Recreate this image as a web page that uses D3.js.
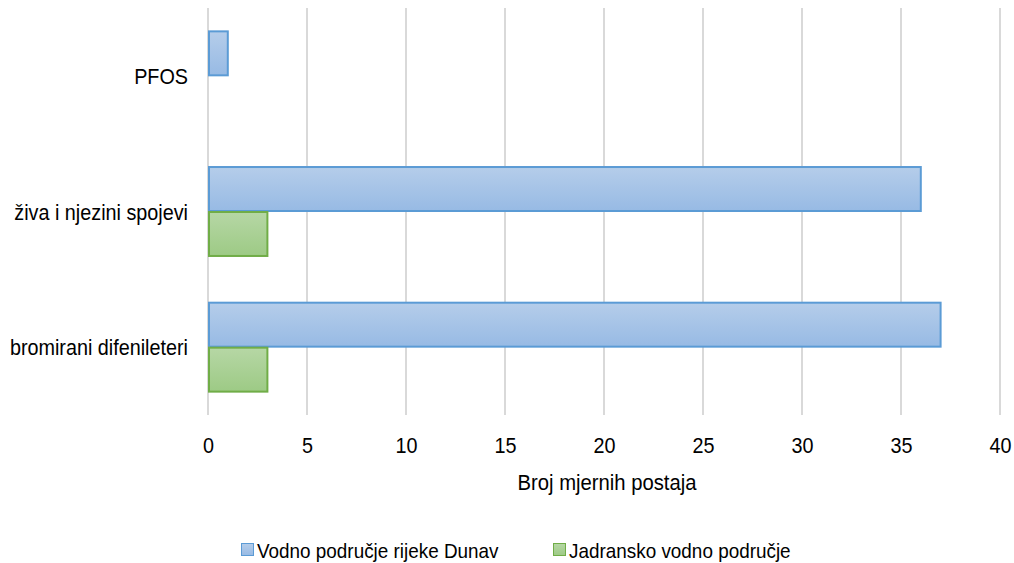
<!DOCTYPE html>
<html><head><meta charset="utf-8">
<script src="https://cdn.jsdelivr.net/npm/d3@7"></script>
<style>body{margin:0;background:#fff}svg{display:block;font-family:"Liberation Sans",Arial,sans-serif}</style>
</head><body><svg id="c" width="1014" height="563"></svg>
<script>
const categories = ["PFOS", "živa i njezini spojevi", "bromirani difenileteri"];
const seriesNames = ["Vodno područje rijeke Dunav", "Jadransko vodno područje"];
const dunav = [1, 36, 37];
const jadran = [0, 3, 3];
const xTicks = [0, 5, 10, 15, 20, 25, 30, 35, 40];
const xTitle = "Broj mjernih postaja";

(function(){
const svg = d3.select("#c");
const mLeft = 208, mRight = 1000, mTop = 8, mBottom = 415;
const SX = 0.9;
const x = d3.scaleLinear().domain([0, 40]).range([mLeft, mRight]);
const y = d3.scaleBand().domain(categories).range([mTop, mBottom]).paddingInner(0.337).paddingOuter(0.1685);
const sub = d3.scaleBand().domain([0, 1]).range([0, y.bandwidth()]);

const defs = svg.append("defs");
function grad(id, c1, c2) {
  const g = defs.append("linearGradient").attr("id", id).attr("x1", 0).attr("y1", 0).attr("x2", 0).attr("y2", 1);
  g.append("stop").attr("offset", "0%").attr("stop-color", c1);
  g.append("stop").attr("offset", "100%").attr("stop-color", c2);
}
grad("gb", "#b5cdea", "#97bae4");
grad("gg", "#b6d7a5", "#9dca85");
const fills = ["url(#gb)", "url(#gg)"];
const strokes = ["#5b9bd5", "#70ad47"];

svg.append("g").selectAll("line").data(xTicks).join("line")
  .attr("x1", d => x(d)).attr("x2", d => x(d)).attr("y1", mTop).attr("y2", mBottom)
  .attr("stroke", "#d9d9d9").attr("stroke-width", 2);

const xa = svg.append("g").attr("transform", `translate(0,${mBottom})`)
  .call(d3.axisBottom(x).tickValues(xTicks).tickSize(0));
xa.select(".domain").remove();
xa.selectAll(".tick text").attr("y", 0).attr("dy", null)
  .attr("transform", `translate(0,38) scale(${SX},1)`)
  .attr("font-size", 22).attr("fill", "#000").attr("font-family", "Liberation Sans, Arial, sans-serif");

const ya = svg.append("g").attr("transform", `translate(${mLeft},0)`)
  .call(d3.axisLeft(y).tickSize(0));
ya.select(".domain").remove();
ya.selectAll(".tick text").attr("x", 0).attr("dy", null)
  .attr("transform", `translate(-20,8) scale(${SX},1)`)
  .attr("font-size", 22).attr("fill", "#000").attr("font-family", "Liberation Sans, Arial, sans-serif");

const series = [dunav, jadran];
series.forEach((vals, si) => {
  svg.append("g").selectAll("rect").data(vals.map((v, i) => ({v, c: categories[i]})).filter(d => d.v > 0)).join("rect")
    .attr("x", x(0) + 1)
    .attr("y", d => y(d.c) + sub(si) + 0.5)
    .attr("width", d => x(d.v) - x(0) - 1)
    .attr("height", sub.bandwidth() - 1)
    .attr("fill", fills[si]).attr("stroke", strokes[si]).attr("stroke-width", 2);
});

svg.append("text").attr("transform", `translate(${(mLeft + mRight) / 2 + 3},490) scale(${SX},1)`)
  .attr("text-anchor", "middle").attr("font-size", 22.5).text(xTitle);

const legX = [241, 553];
const lg = svg.append("g").selectAll("g").data(seriesNames).join("g")
  .attr("transform", (d, i) => `translate(${legX[i]},543)`);
lg.append("rect").attr("x", 0.5).attr("y", 0.5).attr("width", 12).attr("height", 12)
  .attr("fill", (d, i) => fills[i]).attr("stroke", (d, i) => strokes[i]).attr("stroke-width", 1);
lg.append("text").attr("transform", `translate(16,15) scale(${SX},1)`).attr("font-size", 21).text(d => d);
})();
</script></body></html>
